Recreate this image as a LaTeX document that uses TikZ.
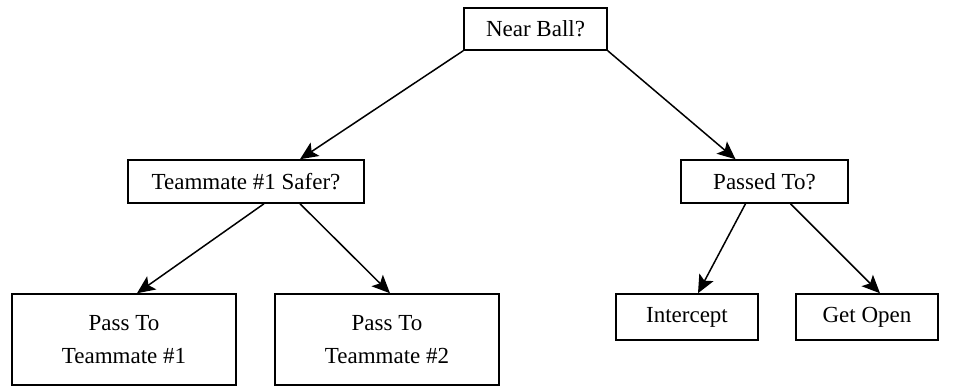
\documentclass[tikz,border=0pt]{standalone}
\usepackage{fontspec}
\setmainfont{Liberation Serif}
\usetikzlibrary{arrows.meta}
\begin{document}
\begin{tikzpicture}[x=0.5pt,y=-0.5pt,
  box/.style={draw=black, line width=0.75pt, fill=white, inner sep=0pt,
    font=\fontsize{11.5}{16.5}\selectfont, align=center},
  arr/.style={draw=black, line width=0.75pt, -{Stealth[length=9pt,width=8pt,inset=2pt]}}]
  \useasboundingbox (0,0) rectangle (960,390);
  % decision boxes
  \node[box, minimum width=71.5pt, minimum height=21pt] (nb) at (535.5,29) {Near Ball?};
  \node[box, minimum width=118pt, minimum height=21.5pt] (tm) at (246,181.5) {Teammate \#1 Safer?};
  \node[box, minimum width=83.5pt, minimum height=21.5pt] (pt) at (764.5,181.5) {Passed To?};
  % action boxes
  \node[box, minimum width=112pt, minimum height=45.5pt] (p1) at (124,339.5) {Pass To\\Teammate \#1};
  \node[box, minimum width=112pt, minimum height=45.5pt] (p2) at (387,339.5) {Pass To\\Teammate \#2};
  \node[box, minimum width=71pt, minimum height=23pt] (ic) at (687,317) {Intercept};
  \node[box, minimum width=71pt, minimum height=23pt] (go) at (867,317) {Get Open};
  % connectors
  \draw[arr] (nb.south west) -- ([xshift=27pt]tm.north);
  \draw[arr] (nb.south east) -- ([xshift=-14.5pt]pt.north);
  \draw[arr] ([xshift=9pt]tm.south) -- ([xshift=6.5pt]p1.north);
  \draw[arr] ([xshift=27pt]tm.south) -- ([xshift=1.5pt]p2.north);
  \draw[arr] ([xshift=-9.5pt]pt.south) -- ([xshift=5.5pt]ic.north);
  \draw[arr] ([xshift=13pt]pt.south) -- ([xshift=6.5pt]go.north);
\end{tikzpicture}
\end{document}
